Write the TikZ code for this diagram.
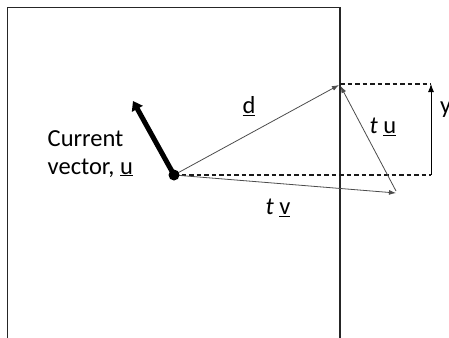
\documentclass[tikz,border=0pt]{standalone}
\usepackage{fontspec}
\setmainfont{Carlito}
\usetikzlibrary{arrows.meta}
\begin{document}
\begin{tikzpicture}[x=1pt,y=-1pt,
  lbl/.style={font=\fontsize{24.5}{28}\selectfont, inner sep=0pt},
  thin arrow/.style={draw=black!70, line width=0.8pt, -{Latex[length=7pt,width=5pt]}},
  dashline/.style={draw=black!90, line width=1.3pt, dash pattern=on 4.5pt off 3pt},
  frame/.style={draw=black!85, line width=1.6pt}]
\useasboundingbox (0,0) rectangle (449,337);
\clip (0,0) rectangle (449,337);
% frame
\draw[frame] (7.5,340) -- (7.5,7.5) -- (340,7.5) -- (340,340);
% points
\coordinate (P) at (174,175);
\coordinate (D) at (339,85);
\coordinate (V) at (396,193);
\coordinate (Ustart) at (396,191);
\coordinate (U) at (133,101);
\coordinate (Rb) at (431,175);
\coordinate (Rt) at (431,84);
\coordinate (Tl) at (340,84);
% dashed lines
\draw[dashline] (P) -- (Rb);
\draw[dashline] (Tl) -- (Rt);
% vertical arrow
\draw[draw=black, line width=0.9pt, -{Latex[length=8pt,width=6pt]}] (Rb) -- (Rt);
% thin arrows
\draw[thin arrow] (P) -- (D);
\draw[thin arrow] (P) -- (V);
\draw[thin arrow] (Ustart) -- (340.5,86);
% thick current vector
\draw[line width=5pt, -{Triangle[length=9pt,width=12pt]}] (P) -- (U);
\fill (P) circle (5.5pt);
% labels
\node[lbl, anchor=base west] (cur) at (47.5,146) {Current};
\node[lbl, anchor=base west] (vec) at (47.5,174) {vector, \underline{u}};
\node[lbl] (dl) at (249,106) {\underline{d}};
\node[lbl] (tul) at (383,127) {\textit{t} \underline{u}};
\node[lbl] (tvl) at (278,208) {\textit{t} \underline{v}};
\node[lbl, anchor=west] (yl) at (440,110) {y};
\end{tikzpicture}
\end{document}
